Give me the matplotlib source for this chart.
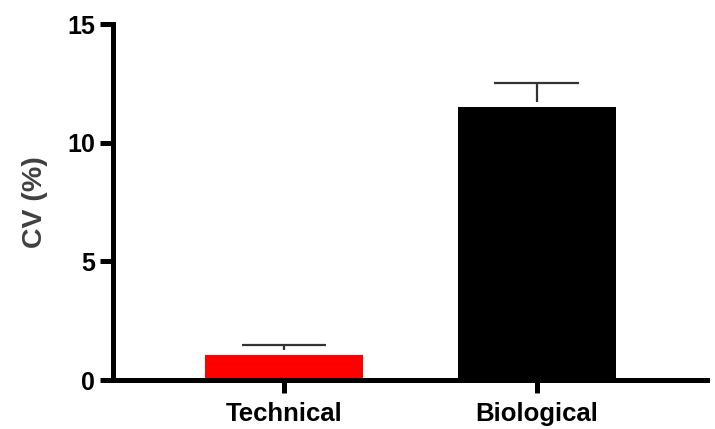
import matplotlib
matplotlib.use("Agg")
import matplotlib.pyplot as plt

categories = ["Technical", "Biological"]
means = [1.06, 11.52]
errors = [0.42, 1.0]
colors = ["#ff0000", "#000000"]
yticks = [0, 5, 10, 15]

plt.rcParams['font.family'] = ['Liberation Sans', 'DejaVu Sans']
plt.rcParams['font.weight'] = 'bold'

fig = plt.figure(figsize=(7.15, 4.29), dpi=100)
ax = fig.add_axes([0.158, 0.1142, 0.831, 0.8298])

x = list(range(len(categories)))
ax.bar(x, means, width=0.626, color=colors, edgecolor='none', zorder=2)
# error bars (stem starts slightly above the bar top, as in the reference)
gap = 0.2
for xi, m, e in zip(x, means, errors):
    ax.vlines(xi, m + gap, m + e, color='#333333', lw=1.6, zorder=3)
    ax.hlines(m + e, xi - 0.167, xi + 0.167, color='#333333', lw=1.6, zorder=3)

ax.set_xlim(-0.677, 1.675)
ax.set_ylim(0, 15)
ax.set_yticks(yticks)
ax.set_yticklabels([str(t) for t in yticks])
ax.set_xticks(x)
ax.set_xticklabels(categories)

for s in ['top', 'right']:
    ax.spines[s].set_visible(False)
for s in ['left', 'bottom']:
    ax.spines[s].set_linewidth(3.6)
    ax.spines[s].set_color('black')
    ax.spines[s].set_capstyle('projecting')

ax.tick_params(axis='both', length=9.4, width=3.6, color='black',
               labelcolor='black')
ax.tick_params(axis='y', pad=3.5, labelsize=18)
ax.tick_params(axis='x', pad=6.5, labelsize=18.5)
for lab in ax.get_xticklabels() + ax.get_yticklabels():
    lab.set_fontweight('bold')

ax.set_ylabel("CV (%)", fontsize=20.5, fontweight='bold', color='#404040', labelpad=14)

fig.savefig("out.png", dpi=100)
